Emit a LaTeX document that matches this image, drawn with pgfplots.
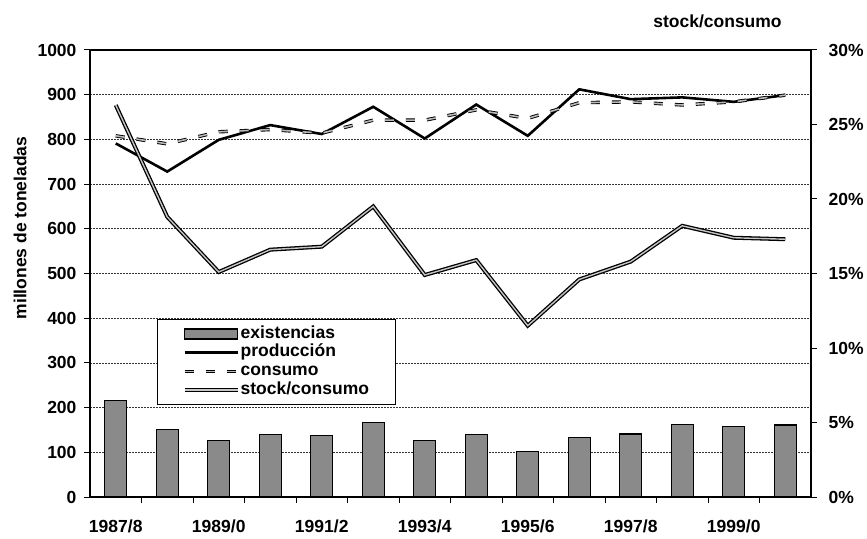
\documentclass[border=0pt]{standalone}
\usepackage{fontspec}
\setmainfont{Liberation Sans}
\usepackage{pgfplots}
\pgfplotsset{compat=1.18}

\definecolor{bargray}{HTML}{8A8A8A}
\newcommand{\chartfont}{\fontsize{17.5}{19}\selectfont\bfseries}

\pgfplotsset{
  lineleg/.style={legend image code/.code={\draw[##1] (0pt,0pt) -- (53pt,0pt);}},
  barleg/.style={legend image code/.code={\draw[##1] (0pt,-5pt) rectangle (53pt,5pt);}},
  base/.style={
    scale only axis, width=721pt, height=447pt,
    xmin=-0.5, xmax=13.5,
    tick label style={font=\chartfont},
    /pgf/number format/assume math mode=true,
    /pgf/number format/1000 sep={},
    tick align=outside,
    major tick length=6pt,
    tick style={black, line width=1pt},
    axis line style={black, line width=1.3pt},
  },
  stockstyle/.style={draw=black, line width=1.3pt, double=gray!45, double distance=1.4pt},
  prodstyle/.style={draw=black, line width=2.6pt},
  consstyle/.style={draw=black, line width=0.9pt, double=gray!55, double distance=1.6pt, dash pattern=on 9pt off 12pt},
  barstyle/.style={fill=bargray, draw=black, line width=1.2pt},
}

\begin{document}
\begin{tikzpicture}
\begin{axis}[base,
  ymin=0, ymax=1000, ytick={0,100,...,1000},
  xtick pos=bottom, ytick pos=left,
  xtick={0.5,1.5,...,12.5}, xticklabels={},
  extra x ticks={0,2,4,6,8,10,12},
  extra x tick labels={1987/8,1989/0,1991/2,1993/4,1995/6,1997/8,1999/0},
  extra x tick style={major tick length=0pt, xticklabel style={yshift=-19pt}},
  ymajorgrids,
  major grid style={black!80, line width=0.7pt, dash pattern=on 1.6pt off 1.4pt},
  yticklabel style={xshift=-4pt},
]
\coordinate (SW) at (rel axis cs:0,0);
\addplot[ybar, bar width=22pt, barstyle] coordinates {
(0,215) (1,151) (2,126) (3,139) (4,138) (5,167) (6,127) (7,139) (8,101) (9,133) (10,141) (11,163) (12,158) (13,161)};
\addplot[prodstyle] coordinates {
(0,791) (1,728) (2,799) (3,832) (4,812) (5,873) (6,802) (7,878) (8,808) (9,912) (10,890) (11,894) (12,884) (13,899)};
\addplot[consstyle] coordinates {
(0,808) (1,790) (2,817) (3,822) (4,814) (5,843) (6,843) (7,866) (8,847) (9,882) (10,884) (11,877) (12,884) (13,899)};
\end{axis}
\begin{axis}[base,
  ymin=0, ymax=30, ytick={0,5,...,30},
  axis y line*=right, axis x line=none,
  yticklabel={\pgfmathprintnumber{\tick}\%},
  yticklabel style={xshift=8pt},
  legend style={at={(0.093,0.398)}, anchor=north west, draw=black, line width=1pt,
    font=\chartfont, inner xsep=25pt, inner ysep=5pt, row sep=0pt, fill=white,
    nodes={inner sep=1.1pt, text height=12.5pt, text depth=4pt}},
  legend cell align=left,
]
\addlegendimage{barleg, barstyle}
\addlegendentry{existencias}
\addlegendimage{lineleg, prodstyle}
\addlegendentry{producción}
\addlegendimage{lineleg, consstyle}
\addlegendentry{consumo}
\addplot[stockstyle, lineleg] coordinates {
(0,26.3) (1,18.8) (2,15.1) (3,16.6) (4,16.8) (5,19.5) (6,14.9) (7,15.9) (8,11.5) (9,14.6) (10,15.8) (11,18.2) (12,17.4) (13,17.3)};
\addlegendentry{stock/consumo}
\end{axis}
\path (SW) ++(-70pt,269pt) node[rotate=90, font=\chartfont] {millones de toneladas};
\path (SW) ++(627.5pt,476pt) node[font=\chartfont] {stock/consumo};
\path (SW) ++(-90pt,-41pt) rectangle ++(867pt,538pt);
\end{tikzpicture}
\end{document}
